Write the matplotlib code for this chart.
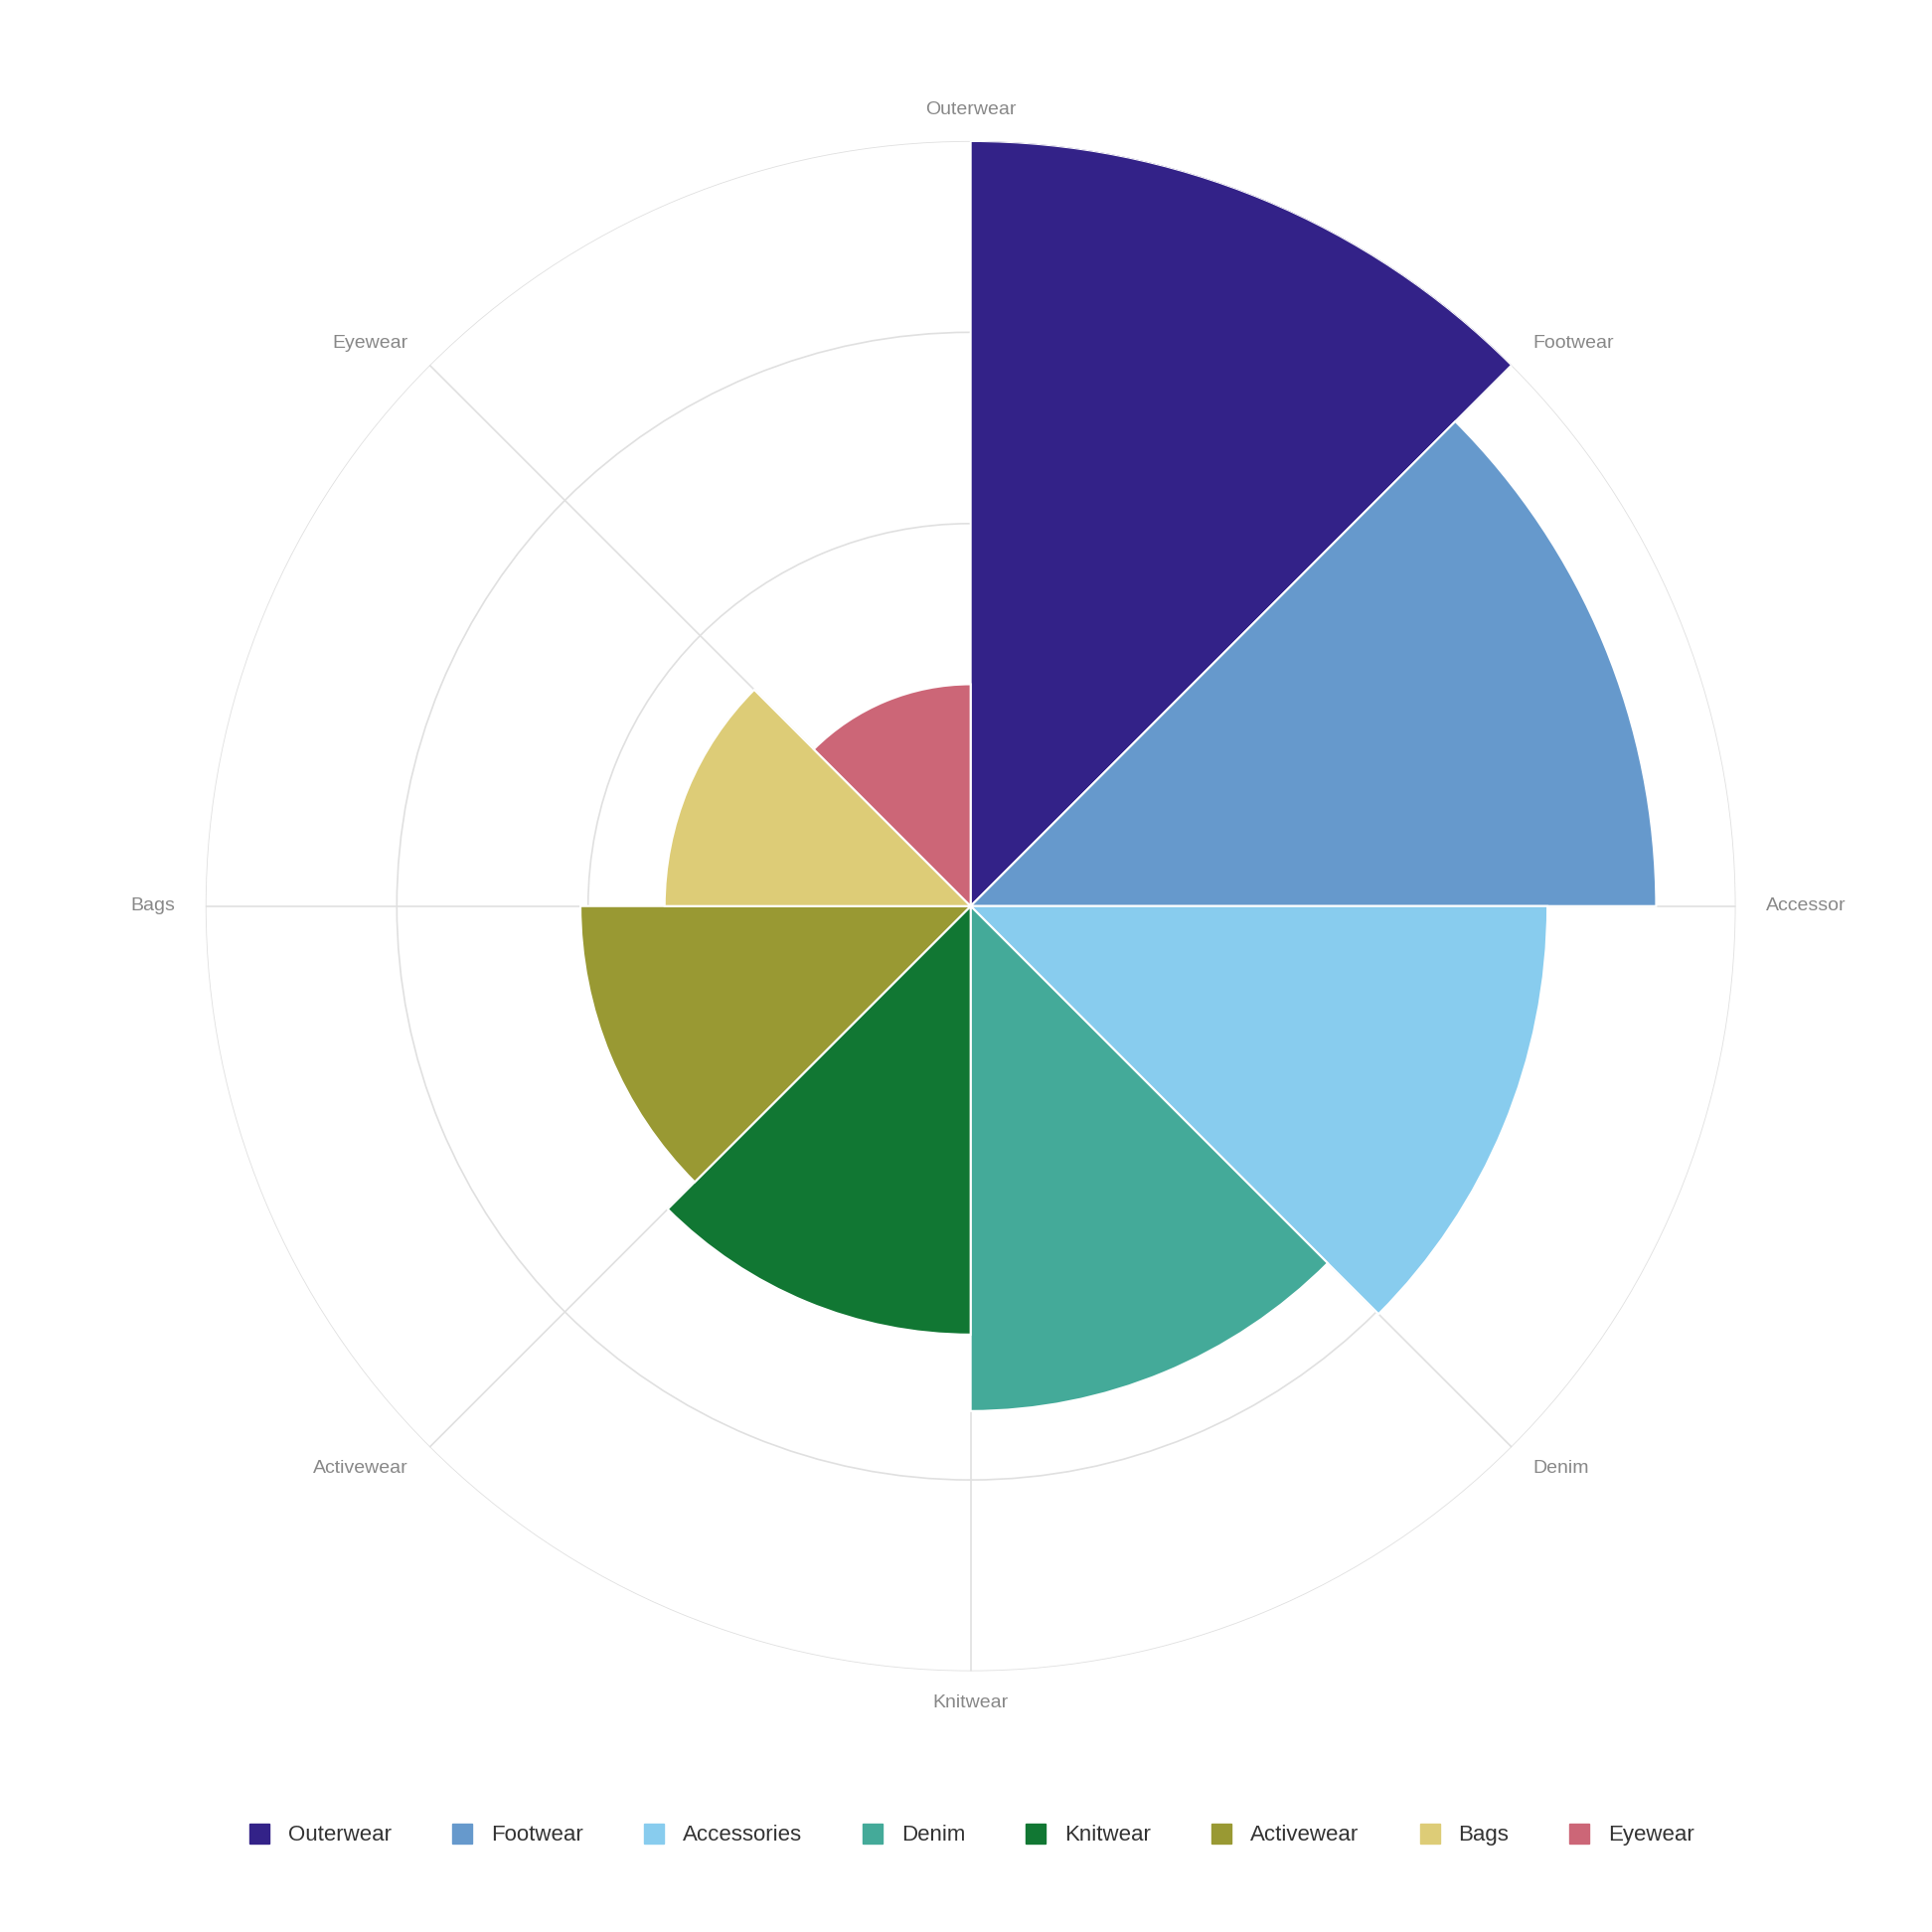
import numpy as np
import matplotlib.pyplot as plt
from matplotlib.lines import Line2D

categories = ["Outerwear", "Footwear", "Accessories", "Denim", "Knitwear", "Activewear", "Bags", "Eyewear"]
axis_labels = ["Outerwear", "Footwear", "Accessor", "Denim", "Knitwear", "Activewear", "Bags", "Eyewear"]
values = [100, 89.6, 75.4, 66, 56, 51, 40, 29]
colors = ["#332288", "#6699CC", "#88CCEE", "#44AA99", "#117733", "#999933", "#DDCC77", "#CC6677"]

plt.rcParams['font.family'] = ['Liberation Sans', 'DejaVu Sans']
fig = plt.figure(figsize=(19.44, 19.44), dpi=100)
ax = fig.add_axes([0.1064, 0.135, 0.792, 0.792], projection='polar')
ax.set_theta_zero_location('N')
ax.set_theta_direction(-1)
n = len(categories)
theta = np.arange(n) * 2 * np.pi / n
ax.bar(theta, values, width=2 * np.pi / n, align='edge', color=colors,
       edgecolor='white', linewidth=1.5, zorder=3)
ax.set_ylim(0, 100)
ax.set_yticks([25, 50, 75, 100])
ax.set_yticklabels([])
ax.set_xticks(theta)
ax.set_xticklabels([])
ax.grid(color='#e0e0e0', linewidth=1.2)
ax.spines['polar'].set_visible(False)
for t, lab in zip(theta, axis_labels):
    d = np.degrees(t)
    if d in (0, 180):
        ha = 'center'
    elif d < 180:
        ha = 'left'
    else:
        ha = 'right'
    va = 'bottom' if d == 0 else ('top' if d == 180 else 'center')
    r = 103 if d in (0, 180) else 104
    ax.text(t, r, lab, ha=ha, va=va, fontsize=14, color='#888888')

handles = [Line2D([], [], marker='s', linestyle='none', markersize=15,
                  markerfacecolor=c, markeredgecolor=c) for c in colors]
fig.legend(handles, categories, loc='center', bbox_to_anchor=(0.5, 0.05), ncol=8,
           frameon=False, fontsize=16, handletextpad=0.3, columnspacing=2.2,
           labelcolor='#333333')
fig.savefig('out.png', dpi=100, facecolor='white')
